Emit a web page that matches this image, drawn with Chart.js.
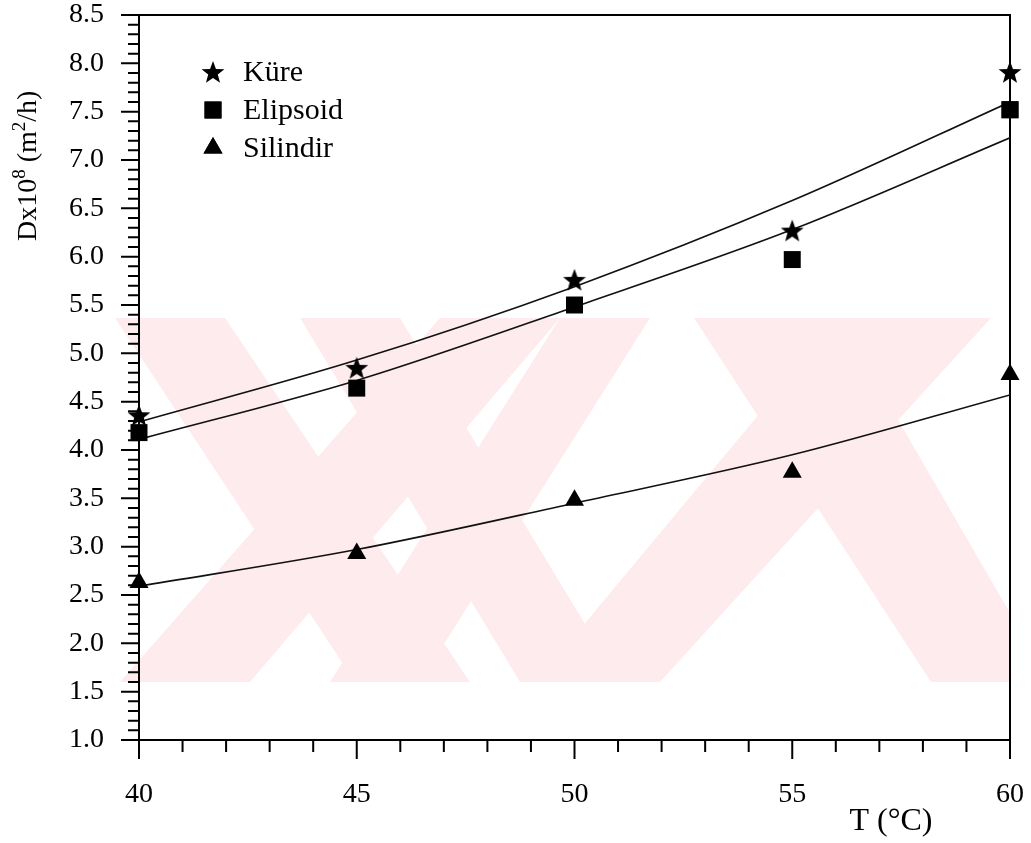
<!DOCTYPE html>
<html>
<head>
<meta charset="utf-8">
<title>Dx - T</title>
<script src="https://cdn.jsdelivr.net/npm/chart.js@4/dist/chart.umd.min.js"></script>
<style>
  body { margin: 0; background: #fff; }
  canvas { display: block; }
</style>
</head>
<body>
<canvas id="dxChart" width="1031" height="843"></canvas>
<script>
// sicaklik (°C)
var temps = [40, 45, 50, 55, 60];
// olculen degerler (Dx x 10^8, m2/h)
var kure = [4.36, 4.85, 5.76, 6.27, 7.91];
var elipsoid = [4.18, 4.64, 5.50, 5.97, 7.52];
var silindir = [2.63, 2.93, 3.48, 3.77, 4.78];
// model egrileri
var kureFit = [4.29, 4.93, 5.69, 6.58, 7.60];
var elipsoidFit = [4.11, 4.72, 5.48, 6.28, 7.23];
var silindirFit = [2.59, 2.97, 3.45, 3.95, 4.57];

var seriesNames = ['Küre', 'Elipsoid', 'Silindir'];

var serif = "'Liberation Serif', 'DejaVu Serif', serif";

// dolu bes koseli yildiz
function makeStar(r) {
    var c = document.createElement('canvas');
    c.width = c.height = Math.ceil(r * 2 + 2);
    var g = c.getContext('2d');
    var cx = c.width / 2, cy = c.height / 2 + 1;
    g.beginPath();
    for (var i = 0; i < 10; i++) {
        var rr = i % 2 ? r * 0.42 : r;
        var a = -Math.PI / 2 + i * Math.PI / 5;
        g.lineTo(cx + rr * Math.cos(a), cy + rr * Math.sin(a));
    }
    g.closePath();
    g.fillStyle = '#000';
    g.fill();
    return c;
}
var star = makeStar(12);

function pts(arr) {
    return temps.map(function (t, i) { return { x: t, y: arr[i] }; });
}

function markerSet(label, arr, style, radius) {
    return {
        label: label,
        data: pts(arr),
        showLine: false,
        pointStyle: style,
        pointRadius: radius,
        pointBackgroundColor: '#000',
        pointBorderColor: '#000',
        pointBorderWidth: 0,
        clip: false
    };
}

function fitSet(arr) {
    return {
        data: pts(arr),
        borderColor: '#111',
        borderWidth: 1.6,
        pointRadius: 0,
        cubicInterpolationMode: 'monotone',
        fill: false
    };
}

var markerStyles = [star, 'rect', 'triangle'];
var markerSizes = [12, 12, 11];

// arka plandaki soluk filigran
var watermark = {
    id: 'watermark',
    beforeDatasetsDraw: function (chart) {
        var ctx = chart.ctx;
        var y0 = 318, y1 = 682;
        var bands = [
            [115, 225, 355, 470],
            [440, 560, 120, 250],
            [300, 400, 520, 620],
            [694, 839, 931, 1050],
            [839, 991, 536, 660],
            [560, 650, 330, 420]
        ];
        ctx.save();
        ctx.beginPath();
        ctx.rect(115, y0, 895, y1 - y0);
        ctx.clip();
        ctx.fillStyle = '#fdebee';
        bands.forEach(function (b) {
            ctx.beginPath();
            ctx.moveTo(b[0], y0);
            ctx.lineTo(b[1], y0);
            ctx.lineTo(b[3], y1);
            ctx.lineTo(b[2], y1);
            ctx.closePath();
            ctx.fill();
        });
        ctx.restore();
    }
};

// cerceve ve tik isaretleri
var frame = {
    id: 'frame',
    beforeDatasetsDraw: function (chart) {
        var ctx = chart.ctx, ca = chart.chartArea;
        var xs = chart.scales.x, ys = chart.scales.y;
        ctx.save();
        ctx.strokeStyle = '#000';
        ctx.lineWidth = 2;
        ctx.beginPath();
        ctx.moveTo(ca.left, ca.bottom + 19);
        ctx.lineTo(ca.left, ca.top);
        ctx.lineTo(ca.right, ca.top);
        ctx.lineTo(ca.right, ca.bottom + 19);
        ctx.moveTo(ca.left - 18, ca.bottom);
        ctx.lineTo(ca.right, ca.bottom);
        for (var i = 10; i <= 85; i++) {
            var py = ys.getPixelForValue(i / 10);
            var len = i % 5 === 0 ? 18 : 11;
            ctx.moveTo(ca.left - len, py);
            ctx.lineTo(ca.left, py);
        }
        for (var t = 40; t <= 60; t++) {
            var px = xs.getPixelForValue(t);
            var l2 = t % 5 === 0 ? 19 : 12;
            ctx.moveTo(px, ca.bottom);
            ctx.lineTo(px, ca.bottom + l2);
        }
        ctx.stroke();
        ctx.restore();
    }
};

// lejant ve eksen basliklari
var labels = {
    id: 'labels',
    afterDraw: function (chart) {
        var ctx = chart.ctx;
        ctx.save();
        ctx.fillStyle = '#000';
        ctx.font = '30px ' + serif;
        ctx.textBaseline = 'middle';
        ctx.textAlign = 'left';
        var rows = [72, 110, 148];
        seriesNames.forEach(function (name, i) {
            Chart.helpers.drawPoint(ctx, {
                pointStyle: markerStyles[i],
                radius: markerSizes[i],
                rotation: 0,
                borderWidth: 0
            }, 213, rows[i]);
            ctx.fill();
            ctx.fillText(name, 243, rows[i] + 1);
        });

        ctx.textBaseline = 'alphabetic';
        ctx.textAlign = 'center';
        ctx.font = '32px ' + serif;
        ctx.fillText('T (°C)', 891, 830);

        ctx.translate(36, 241);
        ctx.rotate(-Math.PI / 2);
        ctx.textAlign = 'left';
        var parts = [['Dx10', 28, 0], ['8', 19, -11], [' (m', 28, 0], ['2', 19, -11], ['/h)', 28, 0]];
        var x = 0;
        parts.forEach(function (p) {
            ctx.font = p[1] + 'px ' + serif;
            ctx.fillText(p[0], x, p[2]);
            x += ctx.measureText(p[0]).width;
        });
        ctx.restore();
    }
};

function noPad(s) {
    s.paddingTop = 0;
    s.paddingBottom = 0;
    s.paddingLeft = 0;
    s.paddingRight = 0;
}

var chart = new Chart(document.getElementById('dxChart'), {
    type: 'line',
    data: {
        datasets: [
            markerSet(seriesNames[0], kure, star, 12),
            markerSet(seriesNames[1], elipsoid, 'rect', 12),
            markerSet(seriesNames[2], silindir, 'triangle', 11),
            fitSet(kureFit),
            fitSet(elipsoidFit),
            fitSet(silindirFit)
        ]
    },
    options: {
        responsive: false,
        animation: false,
        layout: { padding: { left: 0, top: 15, right: 21, bottom: 0 } },
        plugins: {
            legend: { display: false },
            tooltip: { enabled: false }
        },
        scales: {
            x: {
                type: 'linear',
                min: 40,
                max: 60,
                grid: { display: false, drawTicks: false },
                border: { display: false },
                ticks: {
                    stepSize: 5,
                    padding: 38,
                    color: '#000',
                    font: { family: serif, size: 28 }
                },
                afterFit: function (s) { s.height = 103; noPad(s); }
            },
            y: {
                min: 1,
                max: 8.5,
                grid: { display: false, drawTicks: false },
                border: { display: false },
                ticks: {
                    stepSize: 0.5,
                    padding: 35,
                    color: '#000',
                    font: { family: serif, size: 28 },
                    callback: function (v) { return v.toFixed(1); }
                },
                afterFit: function (s) { s.width = 139; noPad(s); }
            }
        }
    },
    plugins: [watermark, frame, labels]
});
</script>
</body>
</html>
